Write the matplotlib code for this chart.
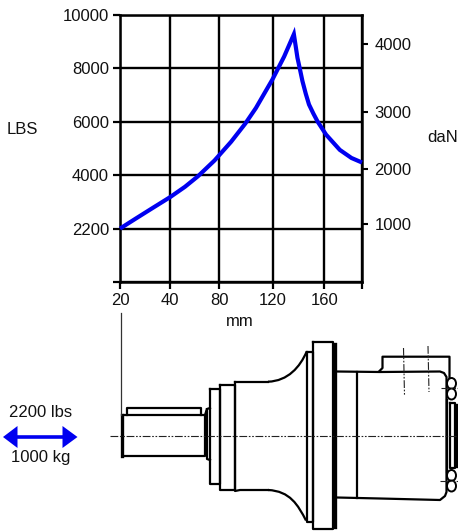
import numpy as np
import matplotlib
matplotlib.use("Agg")
import matplotlib.pyplot as plt
from matplotlib.patches import Ellipse, PathPatch, Polygon
from matplotlib.path import Path

plt.rcParams['font.family'] = ['Liberation Sans', 'DejaVu Sans']

W, H = 458, 531

# Chart data
travel_mm = [20, 26, 32.7, 40, 52, 62.6, 76, 88.7, 99.3, 107.2, 119.5, 128.6, 136.2,
             139, 140.8, 142.9, 145.5, 148, 151.4, 154.7, 161.4, 172.3, 181.6, 190]
force_lbs = [2200, 2523, 2879, 3263, 3609, 3966, 4550, 5252, 5935, 6518, 7587, 8444, 9280,
             8396, 8000, 7523, 7050, 6649, 6311, 6011, 5518, 4949, 4645, 4475]
x_ticks = [20, 40, 80, 120, 160, 190]
x_labels = ['20', '40', '80', '120', '160', '']
y_ticks = [400, 2200, 4000, 6000, 8000, 10000]
y_labels = ['', '2200', '4000', '6000', '8000', '10000']
dan_ticks = [1000, 2000, 3000, 4000]
dan_pos_lbs = [2349, 4226, 6375, 8926]   # lbs-scale height at which each daN tick sits

BLACK = '#000000'
BLUE = '#0000f0'
TEXT = '#111111'
FS = 12

fig = plt.figure(figsize=(W / 100, H / 100), dpi=100, facecolor='white')

# Overlay in pixel coordinates for the mechanical drawing
ov = fig.add_axes([0, 0, 1, 1], zorder=1)
ov.set_xlim(0, W)
ov.set_ylim(H, 0)
ov.axis('off')

# Chart axes
l, r, t, b = 120, 362, 15, 282
ax = fig.add_axes([l / W, 1 - b / H, (r - l) / W, (b - t) / H], zorder=2)
ax.patch.set_alpha(0)
xi = np.array([0, 1, 1.98, 3.05, 4.07, 4.82])
yi = np.arange(len(y_ticks), dtype=float)
ax.set_xscale('function', functions=(lambda v: np.interp(v, x_ticks, xi),
                                     lambda v: np.interp(v, xi, x_ticks)))
ax.set_yscale('function', functions=(lambda v: np.interp(v, y_ticks, yi),
                                     lambda v: np.interp(v, yi, y_ticks)))
ax.set_xlim(20, 190)
ax.set_ylim(400, 10000)
ax.set_xticks(x_ticks)
ax.set_xticklabels(x_labels, fontsize=FS)
ax.set_yticks(y_ticks)
ax.set_yticklabels(y_labels, fontsize=FS)
ax.minorticks_off()
ax.grid(True, color=BLACK, lw=1.7)
ax.set_axisbelow(True)
ax.tick_params(axis='both', length=5, width=1.6, color=BLACK, labelcolor=TEXT, pad=3)
for s in ax.spines.values():
    s.set_linewidth(1.8)
ax.plot(travel_mm, force_lbs, color=BLUE, lw=3, solid_joinstyle='miter',
        solid_capstyle='butt', clip_on=False, zorder=5)

# Right hand scale
ax2 = ax.twinx()
ax2.patch.set_alpha(0)
ax2.set_yscale('function', functions=(lambda v: np.interp(v, y_ticks, yi),
                                      lambda v: np.interp(v, yi, y_ticks)))
ax2.set_ylim(400, 10000)
ax2.set_yticks(dan_pos_lbs)
ax2.set_yticklabels([str(v) for v in dan_ticks], fontsize=FS)
ax2.minorticks_off()
ax2.tick_params(axis='y', length=4, width=1.5, color=BLACK, labelcolor=TEXT, pad=5)
for s in ax2.spines.values():
    s.set_visible(False)

ov.text(22, 130, 'LBS', fontsize=FS, ha='center', va='center', color=TEXT)
ov.text(443, 137, 'daN', fontsize=FS, ha='center', va='center', color=TEXT)
ov.text(240, 322, 'mm', fontsize=FS, ha='center', va='center', color=TEXT)

# Load arrow
ov.plot([15, 65], [437, 437], color=BLUE, lw=2.6, solid_capstyle='butt')
ov.add_patch(Polygon([[3, 437], [17.5, 426], [17.5, 448]], closed=True, fc=BLUE, ec='none'))
ov.add_patch(Polygon([[77.5, 437], [62.5, 426], [62.5, 448]], closed=True, fc=BLUE, ec='none'))
ov.text(41, 412.5, '2200 lbs', fontsize=FS, ha='center', va='center', color=TEXT)
ov.text(41, 457.5, '1000 kg', fontsize=FS, ha='center', va='center', color=TEXT)

# Mechanical drawing outlines
paths_heavy = [
    ([127, 127, 200.5, 200.5], [415, 407.5, 407.5, 415]),
    ([124, 205, 205, 124], [415, 415, 456, 456]),
    ([205, 207, 207, 210], [415, 409, 459, 460]),
    ([207, 210], [409, 408]),
    ([210, 210, 220, 220, 210], [388.5, 483.5, 483.5, 388.5, 388.5]),
    ([220, 220, 235, 235, 220], [384.5, 490, 490, 384.5, 384.5]),
    ([235, 235, 240, 268], [382, 491, 490, 490]),
    ([235, 268], [381.7, 381.7]),
    ([306.7, 306.7, 313, 313, 306.7], [351.5, 521.5, 521.5, 351.5, 351.5]),
    ([313, 313, 333, 333, 313], [341.5, 529, 529, 341.5, 341.5]),
    ([337, 380, 440, 444, 446.5, 446.5, 445, 440, 380, 337],
     [371.5, 372, 371.5, 373, 377, 492, 496, 500, 498.5, 497.5]),
    ([356.7, 356.7], [372, 497.5]),
    ([379, 382.5, 382.5, 449.5, 449.5], [371.5, 368, 356.7, 356.7, 378]),
    ([447, 447], [400, 472]),
    ([450, 455, 455, 450, 450], [403, 403, 468, 468, 403]),
]
for xs, ys in paths_heavy:
    ov.plot(xs, ys, color=BLACK, lw=1.6, solid_joinstyle='round')

# Flared hub curves
for pts in [[(268, 381.7), (288, 381), (300, 367), (306.7, 351.5)],
            [(268, 490), (290, 491), (298, 505), (306, 520.5)]]:
    ov.add_patch(PathPatch(Path(pts, [Path.MOVETO, Path.CURVE4, Path.CURVE4, Path.CURVE4]),
                           fc='none', ec=BLACK, lw=1.6))

# Bolt heads
for cy in [383.5, 394, 475.5, 486]:
    ov.add_patch(Ellipse((451.5, cy), 9, 11, fc='white', ec=BLACK, lw=1.4, zorder=3))

# Thicker accents
for xs, ys in [([122, 122], [415, 456]), ([335, 335], [344, 527]), ([456, 456], [405, 466])]:
    ov.plot(xs, ys, color=BLACK, lw=2.4)

# Extension line from the graph origin to the shaft
ov.plot([120.7, 120.7], [313, 415], color='#333333', lw=0.9)

# Centre lines
dashdot = (0, (7, 1.5, 1.5, 1.5, 1.5, 1.5))
for xs, ys in [([110, 458], [436, 436]), ([403.5, 404.5], [348, 395]), ([428, 429], [346, 392]),
               ([441, 458], [387.7, 387.7]), ([440, 458], [480.7, 480.7])]:
    ov.plot(xs, ys, color='#222222', lw=0.8, linestyle=dashdot, zorder=4)

fig.savefig('out.png', dpi=100)
